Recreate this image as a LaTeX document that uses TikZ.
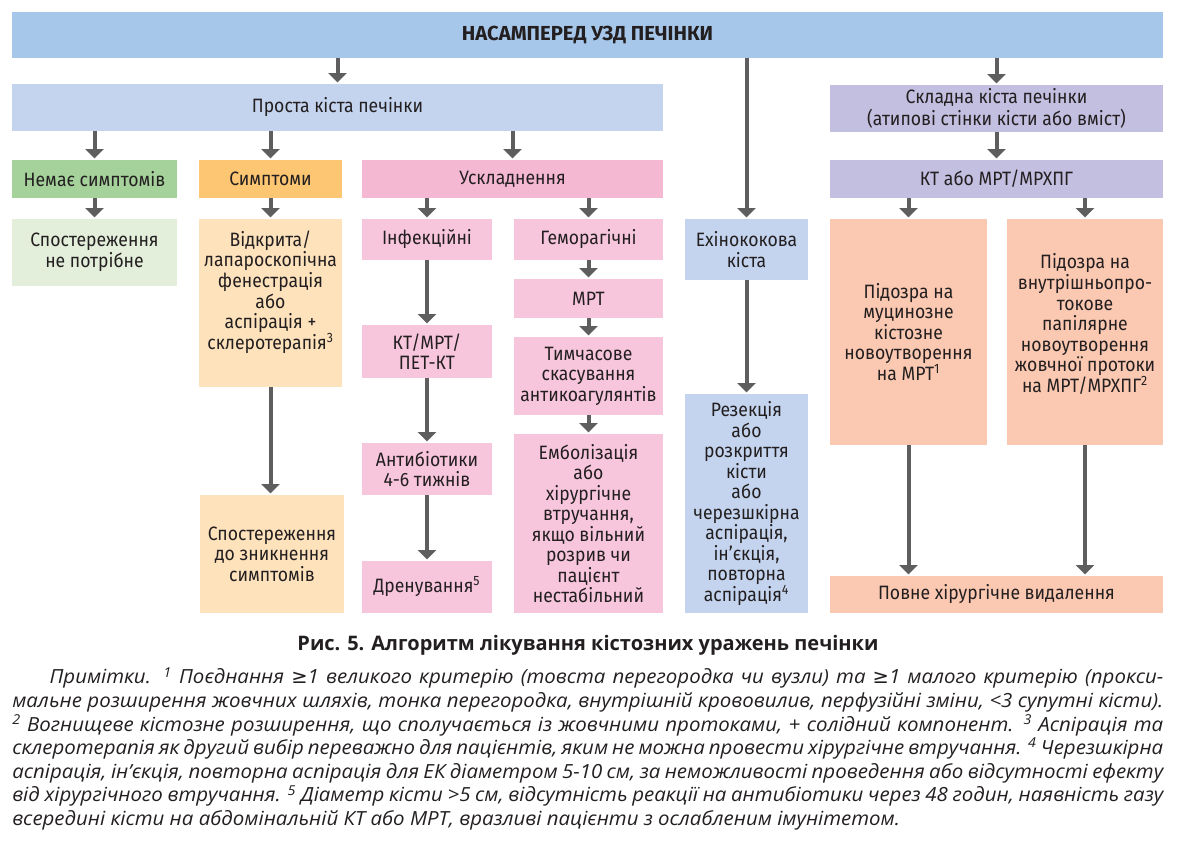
\documentclass[tikz,border=0pt]{standalone}
\usepackage{fontspec}
\setmainfont{Open Sans}
\newfontfamily\boxfont{Fira Sans}[FakeStretch = 0.91]
\newfontfamily\titlefont{Fira Sans}
\newfontfamily\notefont{Open Sans}[FakeStretch = 1.05]
\newfontfamily\symfont{DejaVu Sans}
\newcommand{\gesym}{{\symfont ≥}}
\usetikzlibrary{arrows.meta}

\definecolor{topblue}{HTML}{A7C7EA}
\definecolor{paleblue}{HTML}{C4D4EE}
\definecolor{lavender}{HTML}{C3BFE0}
\definecolor{leafgreen}{HTML}{A5D19B}
\definecolor{palegreen}{HTML}{E3EFDB}
\definecolor{amber}{HTML}{FDC672}
\definecolor{paleamber}{HTML}{FDE2BC}
\definecolor{rose}{HTML}{F5B8D3}
\definecolor{palerose}{HTML}{F8C6DC}
\definecolor{salmon}{HTML}{FBC8B1}
\definecolor{arrowgray}{HTML}{5E5E5E}
\definecolor{inkdark}{HTML}{231F20}

\tikzset{
    box/.style 2 args = {rectangle, inner sep = 0pt, align = center,
        minimum width = #1*0.75pt, minimum height = #2*0.75pt,
        text = inkdark, font = \boxfont\fontsize{14.5pt}{15.4pt}\selectfont},
    boxtext/.style = {inner sep = 0pt, align = center, text = inkdark,
        font = \boxfont\fontsize{14.5pt}{15.4pt}\selectfont},
    arr/.style = {line width = 3pt, draw = arrowgray,
        -{Triangle[width = 13.5pt, length = 7pt]}, shorten > = 1pt},
}

\begin{document}
\begin{tikzpicture}[x = 0.75pt, y = -0.75pt]
    \useasboundingbox (0,0) rectangle (1184,846);

    % first row
    \node (top) at (587.5,35) [box = {1151}{46}, fill = topblue] {\titlefont\fontsize{15.2pt}{16pt}\selectfont\bfseries НАСАМПЕРЕД УЗД ПЕЧІНКИ};
    \node (simple) at (337.5,107.5) [box = {651}{47}, fill = paleblue] {Проста кіста печінки};
    \node (complex) at (996.5,108.5) [box = {333}{47}, fill = lavender] {Складна кіста печінки\\[1pt](атипові стінки кісти або вміст)};

    \node (nosym) at (94.5,179) [box = {165}{38}, fill = leafgreen] {Немає симптомів};
    \node (sym) at (270.5,179) [box = {143}{38}, fill = amber] {Симптоми};
    \node (compl) at (512.5,179) [box = {301}{38}, fill = rose] {Ускладнення};
    \node (ctmr) at (996.5,179) [box = {333}{38}, fill = lavender] {КТ або МРТ/МРХПГ};

    % left branches
    \node (noobs) at (94.5,252.5) [box = {165}{67}, fill = palegreen] {Спостереження\\не потрібне};
    \node (fenes) at (270.5,303) [box = {143}{168}, fill = paleamber] {};
    \node (fenestext) at (270.5,292) [boxtext] {Відкрита/\\лапароскопічна\\фенестрація\\або\\аспірація +\\склеротерапія\textsuperscript{3}};
    \node (watch) at (272,554) [box = {144}{118}, fill = paleamber] {Спостереження\\до зникнення\\симптомів};

    \node (infect) at (427,239.5) [box = {130}{41}, fill = palerose] {Інфекційні};
    \node (imaging) at (427,351.5) [box = {130}{53}, fill = palerose] {КТ/МРТ/\\ПЕТ-КТ};
    \node (abx) at (427,469) [box = {130}{52}, fill = palerose] {Антибіотики\\4-6 тижнів};
    \node (drain) at (427,587) [box = {130}{52}, fill = palerose] {Дренування\textsuperscript{5}};

    \node (hemor) at (588.5,239.5) [box = {149}{41}, fill = palerose] {Геморагічні};
    \node (mrt) at (588.5,298.5) [box = {149}{39}, fill = palerose] {МРТ};
    \node (pause) at (588.5,376) [box = {149}{78}, fill = palerose] {Тимчасове\\скасування\\антикоагулянтів};
    \node (embol) at (588.5,523.5) [box = {149}{179}, fill = palerose] {Емболізація\\або\\хірургічне\\втручання,\\якщо вільний\\розрив чи\\пацієнт\\нестабільний};

    \node (echino) at (746.5,249.5) [box = {123}{61}, fill = paleblue] {Ехінококова\\кіста};
    \node (resect) at (746.5,503.5) [box = {123}{219}, fill = paleblue] {Резекція\\або\\розкриття\\кісти\\або\\черезшкірна\\аспірація,\\ін’єкція,\\повторна\\аспірація\textsuperscript{4}};

    % right branches
    \node (mucin) at (908.5,332) [box = {157}{226}, fill = salmon] {Підозра на\\муцинозне\\кістозне\\новоутворення\\на МРТ\textsuperscript{1}};
    \node (ipmn) at (1085,332) [box = {156}{226}, fill = salmon] {};
    \node (ipmntext) at (1085,324) [boxtext] {Підозра на\\внутрішньопро-\\токове\\папілярне\\новоутворення\\жовчної протоки\\на МРТ/МРХПГ\textsuperscript{2}};
    \node (removal) at (996.5,594.5) [box = {333}{37}, fill = salmon] {Повне хірургічне видалення};

    % arrows
    \draw [arr] (top.south -| simple) -- (simple.north);
    \draw [arr] (top.south -| echino) -- (echino.north);
    \draw [arr] (top.south -| complex) -- (complex.north);
    \draw [arr] (simple.south -| nosym) -- (nosym.north);
    \draw [arr] (simple.south -| sym) -- (sym.north);
    \draw [arr] (simple.south -| compl) -- (compl.north);
    \draw [arr] (complex) -- (ctmr);
    \draw [arr] (nosym) -- (noobs);
    \draw [arr] (sym) -- (fenes);
    \draw [arr] (fenes.south) -- (fenes.south |- watch.north);
    \draw [arr] (compl.south -| infect) -- (infect.north);
    \draw [arr] (compl.south -| hemor) -- (hemor.north);
    \draw [arr] (infect) -- (imaging);
    \draw [arr] (imaging) -- (abx);
    \draw [arr] (abx) -- (drain);
    \draw [arr] (hemor) -- (mrt);
    \draw [arr] (mrt) -- (pause);
    \draw [arr] (pause) -- (embol);
    \draw [arr] (echino) -- (resect);
    \draw [arr] (ctmr.south -| mucin) -- (mucin.north);
    \draw [arr] (ctmr.south -| ipmn) -- (ipmn.north);
    \draw [arr] (mucin.south) -- (mucin.south |- removal.north);
    \draw [arr] (ipmn.south) -- (ipmn.south |- removal.north);

    % caption and notes
    \node (caption) at (588,645) [text = inkdark, font = \bfseries\fontsize{15pt}{17pt}\selectfont] {Рис. 5. Алгоритм лікування кістозних уражень печінки};
    \node (notes) at (12,667) [anchor = north west, inner sep = 0pt, text width = 863.25pt, align = justify, text = inkdark,
        font = \notefont\itshape\fontsize{14.6pt}{17.7pt}\selectfont] {\hspace*{28pt}Примітки. \textsuperscript{1} Поєднання \gesym1 великого критерію (товста перегородка чи вузли) та \gesym1 малого критерію (прокси-\linebreak
        мальне розширення жовчних шляхів, тонка перегородка, внутрішній крововилив, перфузійні зміни, <3 супутні кісти).\linebreak
        \textsuperscript{2} Вогнищеве кістозне розширення, що сполучається із жовчними протоками, + солідний компонент. \textsuperscript{3} Аспірація та\linebreak
        склеротерапія як другий вибір переважно для пацієнтів, яким не можна провести хірургічне втручання. \textsuperscript{4} Черезшкірна\linebreak
        аспірація, ін’єкція, повторна аспірація для ЕК діаметром 5-10 см, за неможливості проведення або відсутності ефекту\linebreak
        від хірургічного втручання. \textsuperscript{5} Діаметр кісти >5 см, відсутність реакції на антибіотики через 48 годин, наявність газу\linebreak
        всередині кісти на абдомінальній КТ або МРТ, вразливі пацієнти з ослабленим імунітетом.};
\end{tikzpicture}
\end{document}
